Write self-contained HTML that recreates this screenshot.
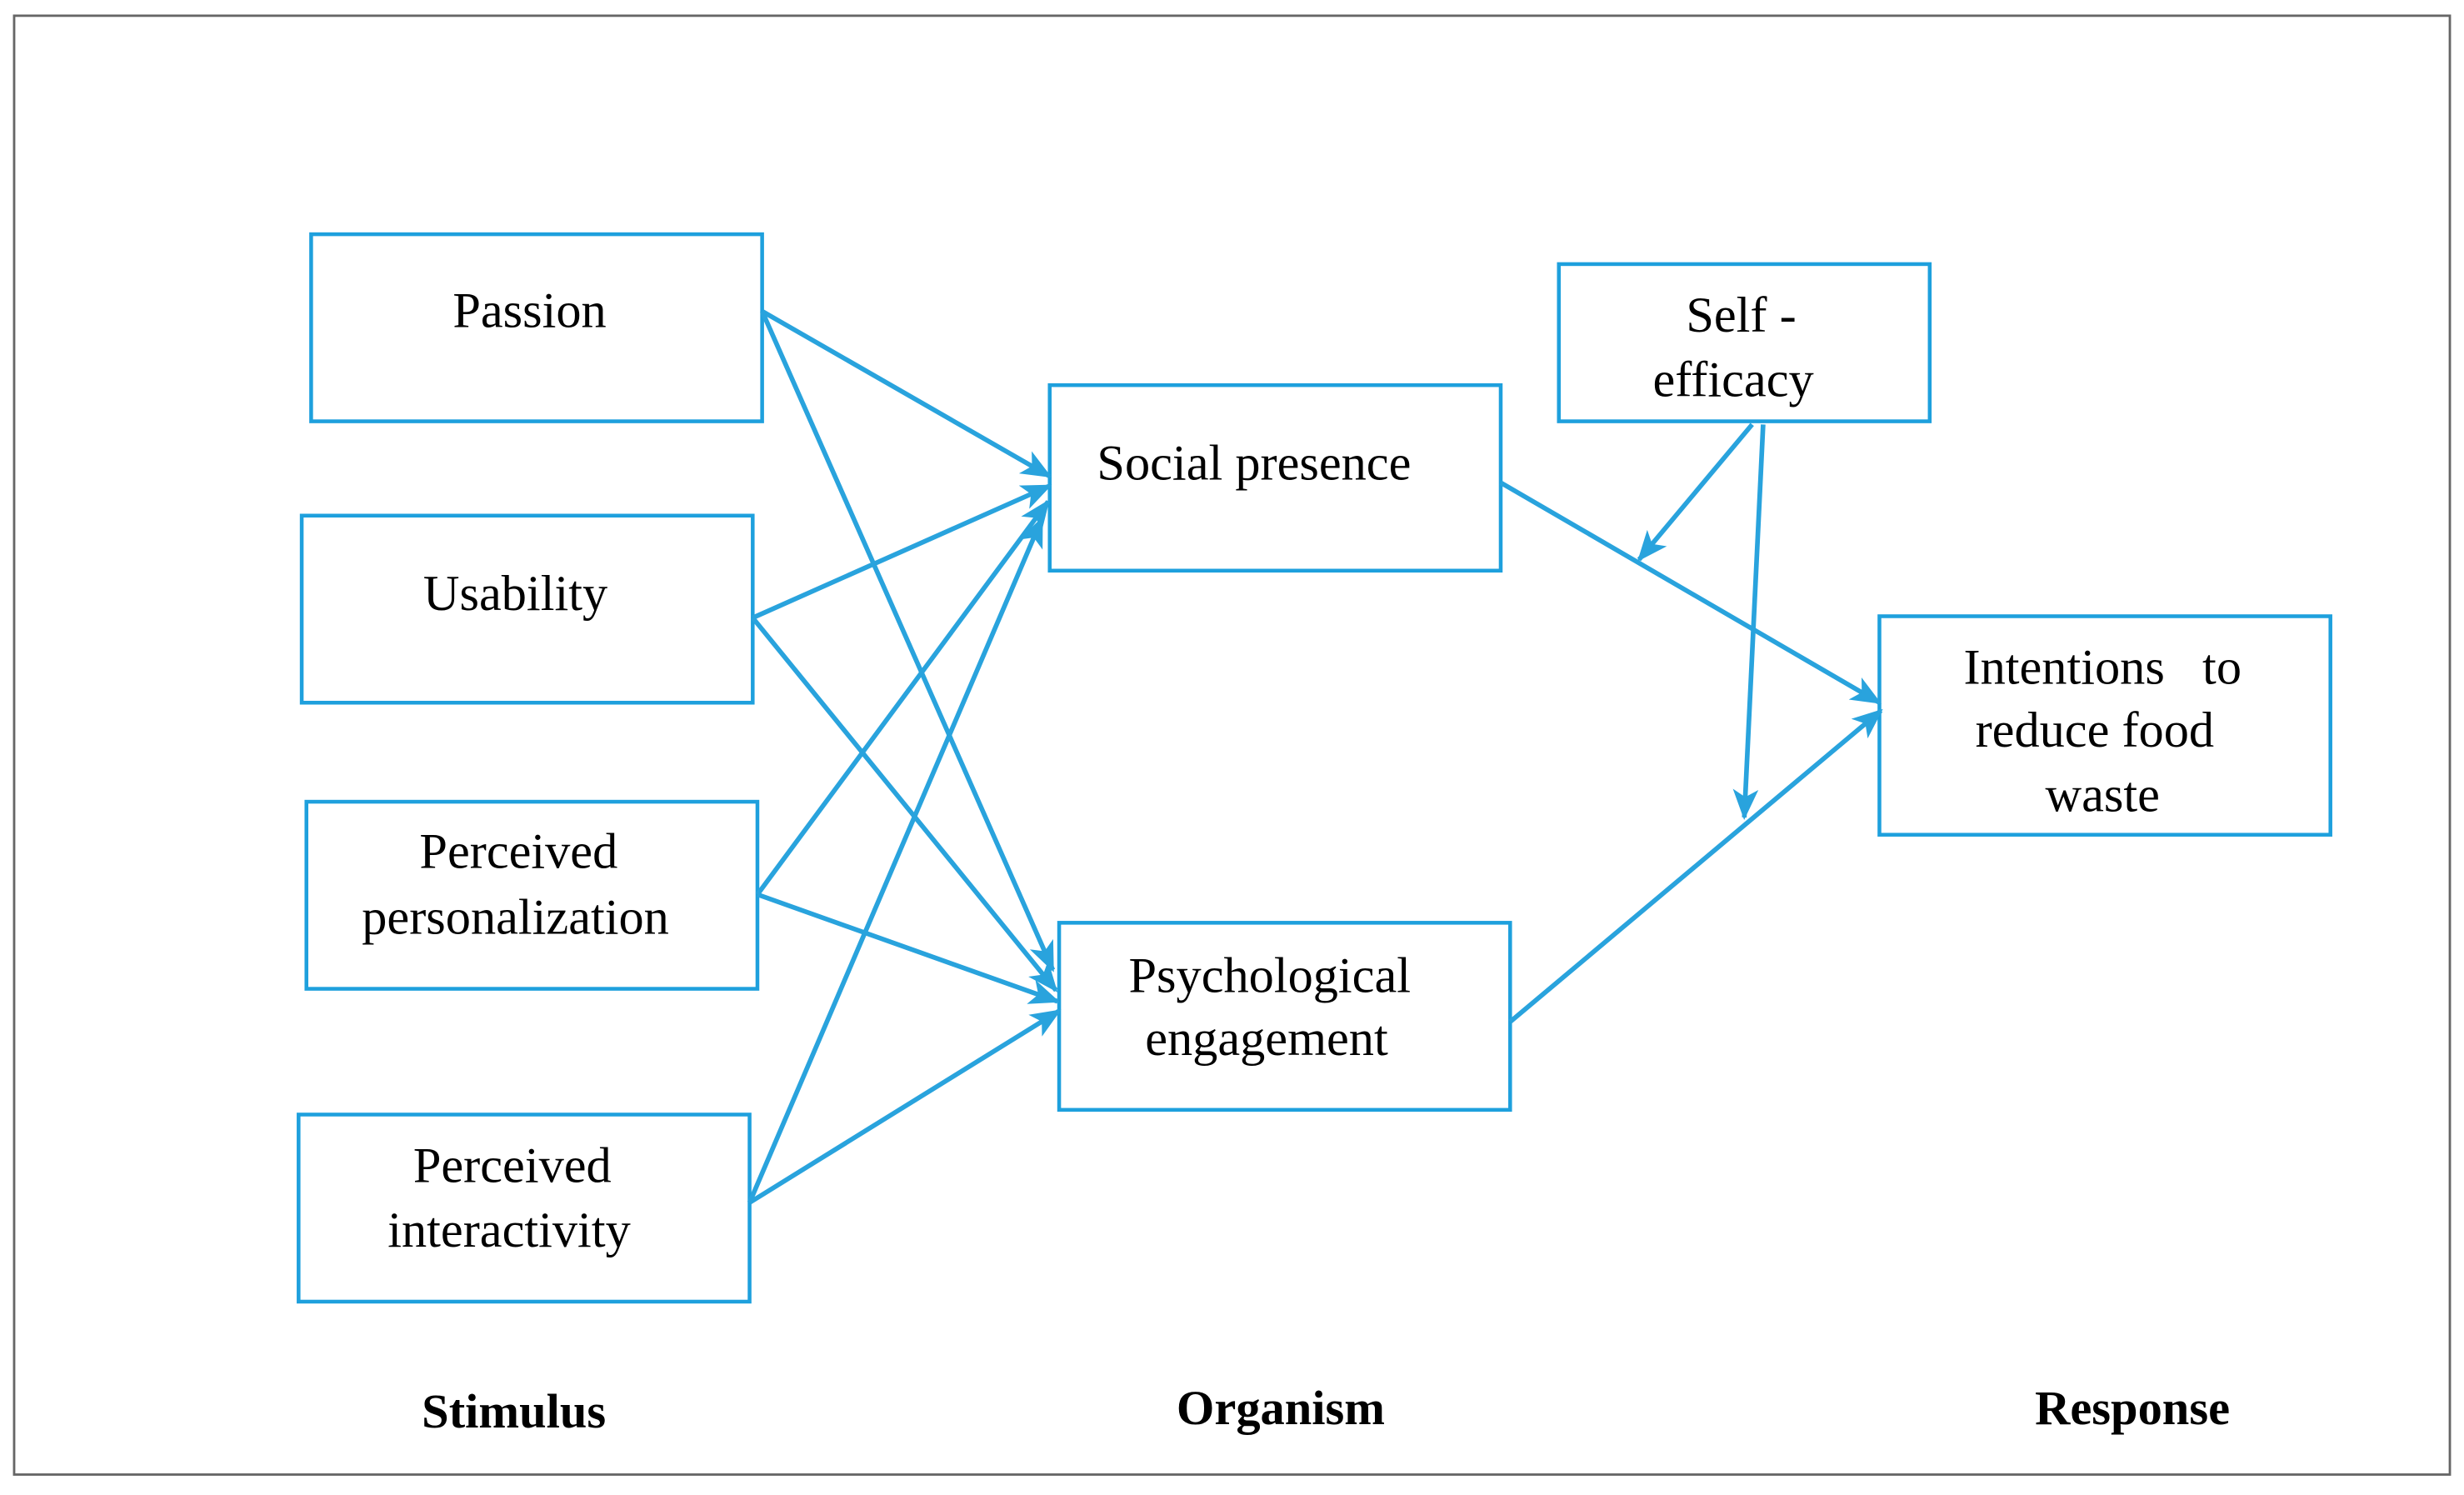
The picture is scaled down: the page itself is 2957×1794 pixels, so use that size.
<!DOCTYPE html>
<html><head><meta charset="utf-8"><style>
html,body{margin:0;padding:0;background:#fff;}
svg{display:block;}
text{font-family:"Liberation Serif",serif;fill:#000;}
</style></head><body>
<svg width="2957" height="1794" viewBox="0 0 1568 951" preserveAspectRatio="none" xmlns="http://www.w3.org/2000/svg">
<defs>
<marker id="a" viewBox="0 0 12 10" refX="11" refY="5" markerWidth="6.5" markerHeight="6.5" orient="auto" markerUnits="strokeWidth">
<path d="M0,0 L12,5 L0,10 L3,5 Z" fill="#29a3dd"/>
</marker>
</defs>
<rect x="0" y="0" width="1568" height="951" fill="#fff"/>
<rect x="9" y="10" width="1550" height="928" fill="none" stroke="#666" stroke-width="1.5"/>
<g fill="none" stroke="#1ea0dd" stroke-width="2.4">
<rect x="198" y="149" width="287" height="119"/>
<rect x="192" y="328" width="287" height="119"/>
<rect x="195" y="510" width="287" height="119"/>
<rect x="190" y="709" width="287" height="119"/>
<rect x="668" y="245" width="287" height="118"/>
<rect x="674" y="587" width="287" height="119"/>
<rect x="992" y="168" width="236" height="100"/>
<rect x="1196" y="392" width="287" height="139"/>
</g>
<g stroke="#29a3dd" stroke-width="3" fill="none" marker-end="url(#a)">
<line x1="485" y1="198" x2="668" y2="303"/>
<line x1="485" y1="198" x2="670" y2="617"/>
<line x1="479" y1="393" x2="668" y2="309"/>
<line x1="479" y1="393" x2="672" y2="630"/>
<line x1="482" y1="569" x2="667" y2="319"/>
<line x1="482" y1="569" x2="673" y2="637"/>
<line x1="477" y1="765" x2="663" y2="330"/>
<line x1="477" y1="765" x2="674" y2="643"/>
<line x1="955" y1="307" x2="1196" y2="447"/>
<line x1="961" y1="650" x2="1197" y2="452"/>
<line x1="1115" y1="270" x2="1043" y2="356"/>
<line x1="1122" y1="270" x2="1110" y2="520"/>
</g>
<g font-size="32" text-anchor="middle">
<text x="337" y="208">Passion</text>
<text x="328" y="388">Usability</text>
<text x="330" y="552">Perceived</text>
<text x="328" y="594">personalization</text>
<text x="326" y="752">Perceived</text>
<text x="324" y="793">interactivity</text>
<text x="798" y="305">Social presence</text>
<text x="808" y="631">Psychological</text>
<text x="806" y="671">engagement</text>
<text x="1108" y="211">Self -</text>
<text x="1103" y="252">efficacy</text>
<text x="1338" y="435" xml:space="preserve">Intentions   to</text>
<text x="1333" y="475">reduce food</text>
<text x="1338" y="516">waste</text>
</g>
<g font-size="31" font-weight="bold" text-anchor="middle">
<text x="327" y="908">Stimulus</text>
<text x="815" y="906">Organism</text>
<text x="1357" y="906">Response</text>
</g>
</svg>
</body></html>
